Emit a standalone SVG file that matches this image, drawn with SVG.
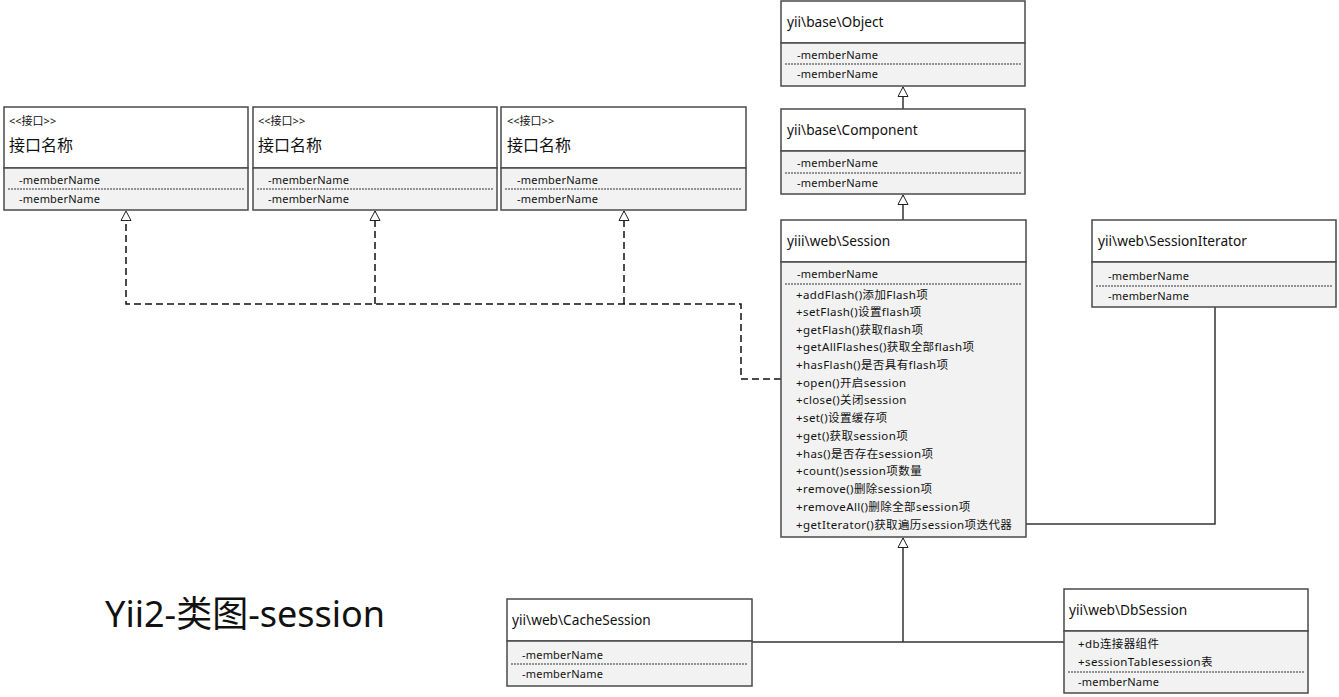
<svg xmlns="http://www.w3.org/2000/svg" width="1339" height="697" viewBox="0 0 1339 697">
<style>
.box{fill:#fff;stroke:#4a4a4a;stroke-width:1.5}
.mem{fill:#f2f2f2;stroke:#4a4a4a;stroke-width:1.5}
.dot{stroke:#333;stroke-width:1;stroke-dasharray:2 1;fill:none}
.t{font-family:"Noto Sans","Noto Sans CJK SC",sans-serif;font-size:13.7px;fill:#111}
.s{font-family:"Noto Sans","Noto Sans CJK SC",sans-serif;font-size:11px;letter-spacing:0.2px;fill:#111}
.m{font-family:"Noto Sans","Noto Sans CJK SC",sans-serif;font-size:11.5px;letter-spacing:0.4px;fill:#111}
.st{font-family:"Noto Sans","Noto Sans CJK SC",sans-serif;font-size:11px;fill:#111}
.ti{font-family:"Noto Sans CJK SC","Noto Sans",sans-serif;font-size:16px;fill:#111}
.ln{stroke:#333;stroke-width:1.5;fill:none}
.dash{stroke:#111;stroke-width:1.5;fill:none;stroke-dasharray:7 4}
</style>
<defs>
<marker id="tri" viewBox="0 0 10 12" refX="10" refY="6" markerWidth="10" markerHeight="12" markerUnits="userSpaceOnUse" orient="auto">
<path d="M0.5,1 L10,6 L0.5,11 Z" fill="#fff" stroke="#222" stroke-width="1"/>
</marker>
</defs>
<rect width="1339" height="697" fill="#fff"/>

<g id="connectors">
<path class="dash" d="M781,379 H741 V304 H126 V211" marker-end="url(#tri)"/>
<path class="dash" d="M375,304 V211" marker-end="url(#tri)"/>
<path class="dash" d="M624,304 V211" marker-end="url(#tri)"/>
<path class="ln" d="M903,109 V87" marker-end="url(#tri)"/>
<path class="ln" d="M903,220 V195" marker-end="url(#tri)"/>
<path class="ln" d="M903,642 V538" marker-end="url(#tri)"/>
<path class="ln" d="M752,642 H1064"/>
<path class="ln" d="M1215,307 V524 H1022"/>
</g>

<g id="iface1">
<rect class="box" x="4" y="107" width="244" height="61"/>
<rect class="mem" x="4" y="168" width="244" height="42"/>
<line class="dot" x1="8" y1="189" x2="244" y2="189"/>
<text class="st" x="9" y="125">&lt;&lt;接口&gt;&gt;</text>
<text class="ti" x="9" y="151">接口名称</text>
<text class="s" x="19" y="184">-memberName</text>
<text class="s" x="19" y="203">-memberName</text>
</g>
<g id="iface2">
<rect class="box" x="253" y="107" width="244" height="61"/>
<rect class="mem" x="253" y="168" width="244" height="42"/>
<line class="dot" x1="257" y1="189" x2="493" y2="189"/>
<text class="st" x="258" y="125">&lt;&lt;接口&gt;&gt;</text>
<text class="ti" x="258" y="151">接口名称</text>
<text class="s" x="268" y="184">-memberName</text>
<text class="s" x="268" y="203">-memberName</text>
</g>
<g id="iface3">
<rect class="box" x="501" y="107" width="245" height="61"/>
<rect class="mem" x="501" y="168" width="245" height="42"/>
<line class="dot" x1="505" y1="189" x2="742" y2="189"/>
<text class="st" x="507" y="125">&lt;&lt;接口&gt;&gt;</text>
<text class="ti" x="507" y="151">接口名称</text>
<text class="s" x="517" y="184">-memberName</text>
<text class="s" x="517" y="203">-memberName</text>
</g>

<g id="object">
<rect class="box" x="781" y="1" width="244" height="42"/>
<rect class="mem" x="781" y="43" width="244" height="43"/>
<line class="dot" x1="785" y1="64" x2="1021" y2="64"/>
<text class="t" x="787" y="27">yii\base\Object</text>
<text class="s" x="797" y="59">-memberName</text>
<text class="s" x="797" y="78">-memberName</text>
</g>

<g id="component">
<rect class="box" x="781" y="109" width="244" height="42"/>
<rect class="mem" x="781" y="151" width="244" height="43"/>
<line class="dot" x1="785" y1="173" x2="1021" y2="173"/>
<text class="t" x="787" y="135">yii\base\Component</text>
<text class="s" x="797" y="167">-memberName</text>
<text class="s" x="797" y="187">-memberName</text>
</g>

<g id="session">
<rect class="box" x="781" y="220" width="245" height="42"/>
<rect class="mem" x="781" y="262" width="245" height="275"/>
<line class="dot" x1="785" y1="284" x2="1022" y2="284"/>
<text class="t" x="787" y="246">yiii\web\Session</text>
<text class="s" x="797" y="278">-memberName</text>
<text class="m" x="796" y="299">+addFlash()添加Flash项</text>
<text class="m" x="796" y="316">+setFlash()设置flash项</text>
<text class="m" x="796" y="334">+getFlash()获取flash项</text>
<text class="m" x="796" y="351">+getAllFlashes()获取全部flash项</text>
<text class="m" x="796" y="369">+hasFlash()是否具有flash项</text>
<text class="m" x="796" y="387">+open()开启session</text>
<text class="m" x="796" y="404">+close()关闭session</text>
<text class="m" x="796" y="422">+set()设置缓存项</text>
<text class="m" x="796" y="440">+get()获取session项</text>
<text class="m" x="796" y="458">+has()是否存在session项</text>
<text class="m" x="796" y="475">+count()session项数量</text>
<text class="m" x="796" y="493">+remove()删除session项</text>
<text class="m" x="796" y="511">+removeAll()删除全部session项</text>
<text class="m" x="796" y="529">+getIterator()获取遍历session项迭代器</text>
</g>

<g id="sessioniterator">
<rect class="box" x="1092" y="220" width="244" height="42"/>
<rect class="mem" x="1092" y="262" width="244" height="45"/>
<line class="dot" x1="1096" y1="286" x2="1332" y2="286"/>
<text class="t" x="1098" y="246">yii\web\SessionIterator</text>
<text class="s" x="1108" y="280">-memberName</text>
<text class="s" x="1108" y="300">-memberName</text>
</g>

<g id="cachesession">
<rect class="box" x="507" y="599" width="245" height="42"/>
<rect class="mem" x="507" y="641" width="245" height="45"/>
<line class="dot" x1="511" y1="664" x2="748" y2="664"/>
<text class="t" x="512" y="625">yii\web\CacheSession</text>
<text class="s" x="522" y="659">-memberName</text>
<text class="s" x="522" y="678">-memberName</text>
</g>

<g id="dbsession">
<rect class="box" x="1064" y="589" width="244" height="42"/>
<rect class="mem" x="1064" y="631" width="244" height="62"/>
<line class="dot" x1="1068" y1="672" x2="1304" y2="672"/>
<text class="t" x="1069" y="615">yii\web\DbSession</text>
<text class="m" x="1078" y="648">+db连接器组件</text>
<text class="m" x="1078" y="666">+sessionTablesession表</text>
<text class="s" x="1078" y="686">-memberName</text>
</g>

<g id="title">
<text x="105" y="627" font-family="'Noto Sans','Noto Sans CJK SC',sans-serif" font-size="36" fill="#111">Yii2-类图-session</text>
</g>
</svg>
